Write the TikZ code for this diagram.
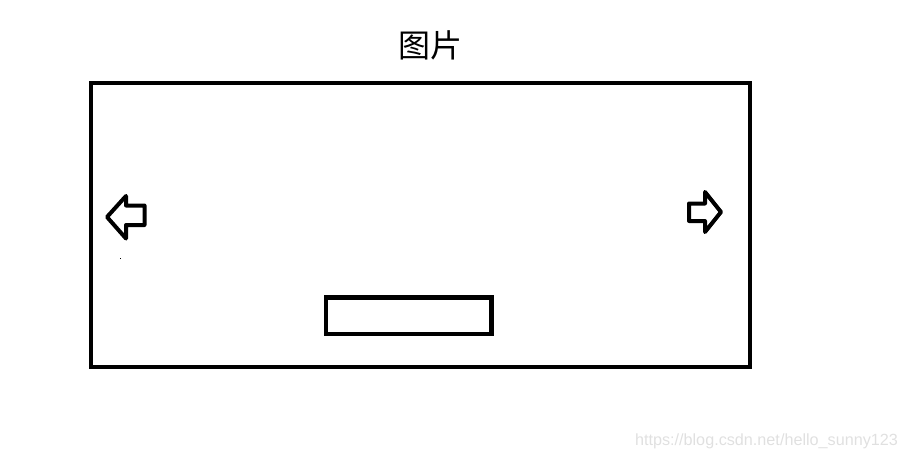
\documentclass[tikz,border=0pt]{standalone}
\usepackage{fontspec}
\newfontfamily\cjk{Noto Sans CJK SC}
\newfontfamily\wmfont{Liberation Sans}
\begin{document}
\begin{tikzpicture}[x=1pt,y=-1pt]
\useasboundingbox (0,0) rectangle (905,460) ;
\draw (430,45) node {\cjk\fontsize{32}{38}\selectfont 图片} ;
\draw [line width=4.6pt] (91,83) rectangle (750,367) ;
\draw [line width=4.6pt] (326,297.5) rectangle (491.5,334) ;
\draw [line width=4pt,line join=round] (107,217) -- (126,196) -- (126,205.5) -- (144.5,205.5) -- (144.5,225) -- (126,225) -- (126,238.5) -- cycle ;
\draw [line width=4pt,line join=round] (721,212) -- (705,192) -- (705,203.5) -- (689,203.5) -- (689,221) -- (705,221) -- (705,232) -- cycle ;
\fill (119.5,257.5) rectangle (120.5,258.5) ;
\draw (766.5,441) node [text=black!12] {\wmfont\fontsize{16.2}{19}\selectfont https://blog.csdn.net/hello\_sunny123} ;
\end{tikzpicture}
\end{document}
